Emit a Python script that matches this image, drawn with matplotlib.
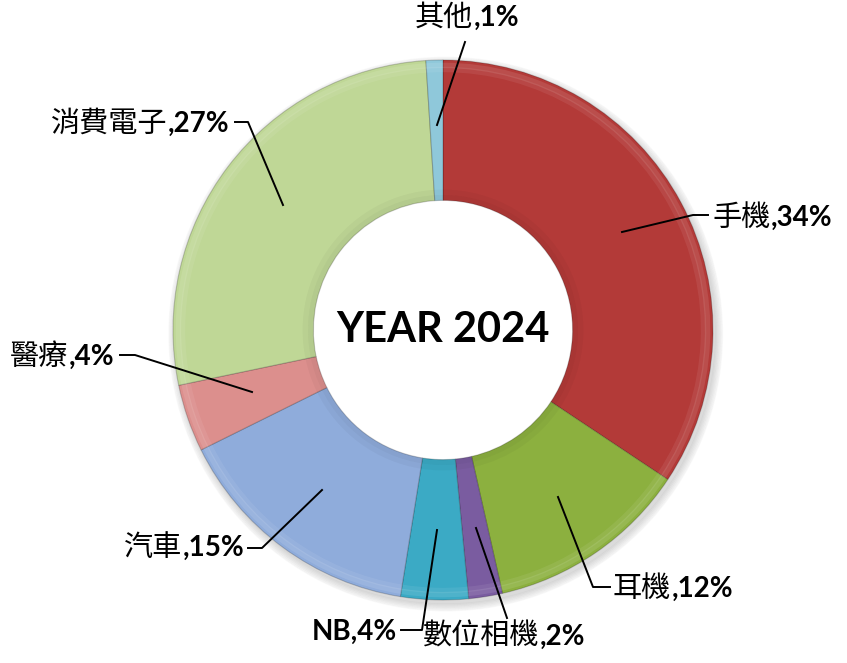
import numpy as np
import matplotlib.pyplot as plt
from matplotlib.offsetbox import TextArea, HPacker, AnnotationBbox

# ---------------- data ----------------
names = ["手機", "耳機", "數位相機", "NB", "汽車", "醫療", "消費電子", "其他"]
shares = [34, 12, 2, 4, 15, 4, 27, 1]
colors = ["#B33A38", "#8CB03F", "#7A5CA0", "#3BAAC5", "#8FACDB", "#DC8F8D", "#BFD796", "#8FC8DA"]
title = "YEAR 2024"

# label layout (pixel positions from the picture): text anchor, stub end, tip
W, H = 847, 663
CX, CY, R = 443, 330, 270
label_layout = [
    ((713, 218), "left",   [(708, 215), (693, 215), (622, 232)]),
    ((613, 589), "left",   [(610, 587), (593, 587), (558, 497)]),
    ((423, 637), "left",   [(507, 618), (476, 528)]),
    ((397, 632), "right",  [(401, 630), (422, 630), (437, 530)]),
    ((244, 548), "right",  [(248, 548), (262, 548), (322, 490)]),
    ((114, 357), "right",  [(120, 355), (135, 355), (252, 392)]),
    ((229, 124), "right",  [(235, 122), (248, 122), (283, 205)]),
    ((467, 18),  "center", [(465, 42), (437, 125)]),
]


def to_data(p):
    return ((p[0] - CX) / R, (CY - p[1]) / R)


fig = plt.figure(figsize=(W / 100, H / 100), dpi=100)
ax = fig.add_axes([0, 0, 1, 1])
ax.set_aspect("equal")
ax.axis("off")

# soft shadow behind the ring
for k in range(6):
    sh = plt.Circle((0.01, -0.015), 1.0 + 0.005 * k, color="#000000",
                    alpha=0.025, zorder=0)
    ax.add_patch(sh)
ax.add_patch(plt.Circle((0, 0), 0.48, color="white", zorder=0.5))

wedges, _ = ax.pie(shares, colors=colors, startangle=90, counterclock=False,
                   radius=1.0, wedgeprops=dict(width=0.52, edgecolor="#00000030",
                                               linewidth=0.8))

# bevel: faint light band at outer rim, faint shade at inner rim
for r, a in [(0.99, 0.10), (0.975, 0.07)]:
    ax.pie(shares, colors=["white"] * len(shares), startangle=90, counterclock=False,
           radius=r, wedgeprops=dict(width=0.02, alpha=a, linewidth=0))
for r, a in [(0.50, 0.06), (0.52, 0.03)]:
    ax.pie(shares, colors=["black"] * len(shares), startangle=90, counterclock=False,
           radius=r, wedgeprops=dict(width=0.02, alpha=a, linewidth=0))

ax.set_xlim(-CX / R, (W - CX) / R)
ax.set_ylim(-(H - CY) / R, CY / R)

ax.text(0, 0, title, ha="center", va="center", fontsize=30,
        fontweight="bold", family=["Lato", "DejaVu Sans"])

cjk = dict(family=["Noto Sans CJK TC", "DejaVu Sans"], fontsize=21, color="black")
num = dict(family=["Lato", "DejaVu Sans"], fontsize=20, fontweight="bold", color="black")

for name, val, (txy, align, pts) in zip(names, shares, label_layout):
    pts_d = [to_data(p) for p in pts]
    xs, ys = zip(*pts_d)
    ax.plot(xs, ys, color="black", lw=1.4, zorder=5)

    if name == "NB":
        parts = [TextArea(name + f",{val}%", textprops=num)]
    else:
        parts = [TextArea(name, textprops=cjk), TextArea(f",{val}%", textprops=num)]
    box = HPacker(children=parts, align="baseline", pad=0, sep=0)
    bx = {"left": 0.0, "right": 1.0, "center": 0.5}[align]
    ab = AnnotationBbox(box, to_data(txy), box_alignment=(bx, 0.5),
                        frameon=False, pad=0)
    ax.add_artist(ab)

fig.savefig("out.png", dpi=100)
